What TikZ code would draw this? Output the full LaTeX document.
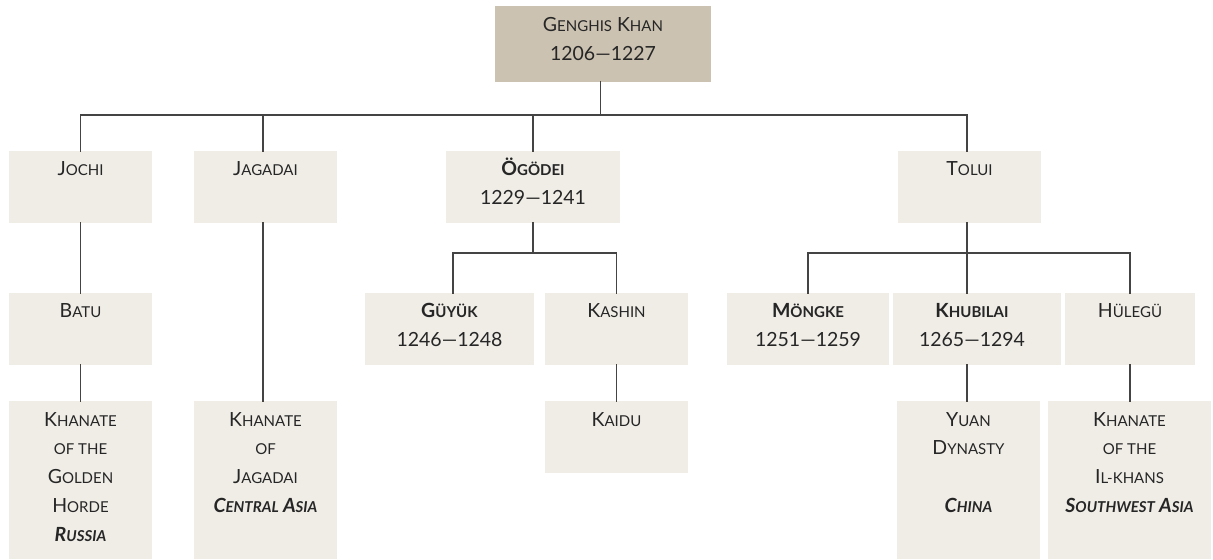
\documentclass[tikz,border=0pt]{standalone}
\usepackage{fontspec}
\setmainfont{Lato}
\usetikzlibrary{calc}
\definecolor{tanfill}{HTML}{CCC2B1}
\definecolor{pale}{HTML}{F0EDE7}
\definecolor{ink}{HTML}{262626}
\definecolor{wire}{HTML}{444444}
\newcommand\sm[1]{{\fontsize{15bp}{28.8bp}\selectfont #1}}
\newcommand\fs{\rule{0pt}{20bp}}
\begin{document}
\begin{tikzpicture}[x=1bp,y=-1bp,
  bx/.style={fill=pale, draw=none, inner sep=0pt, outer sep=0pt, anchor=north west},
  txt/.style={anchor=north, inner sep=0pt, outer sep=0pt, align=center, text=ink,
    font=\fontsize{19.5bp}{28.8bp}\selectfont},
  conn/.style={draw=wire, line width=1.4bp, line cap=rect}]
\useasboundingbox[fill=white] (0,0) rectangle (1213,560);

% boxes
\node[bx, fill=tanfill, minimum width=216bp, minimum height=76bp] (G) at (495,6) {};
\node[bx, minimum width=143bp, minimum height=72bp] (jochi) at (9,151) {};
\node[bx, minimum width=143bp, minimum height=72bp] (jagadai) at (194,151) {};
\node[bx, minimum width=174bp, minimum height=72bp] (ogodei) at (446,151) {};
\node[bx, minimum width=143bp, minimum height=72bp] (tolui) at (898,151) {};
\node[bx, minimum width=143bp, minimum height=72bp] (batu) at (9,293) {};
\node[bx, minimum width=169bp, minimum height=72bp] (guyuk) at (365,293) {};
\node[bx, minimum width=143bp, minimum height=72bp] (kashin) at (545,293) {};
\node[bx, minimum width=162bp, minimum height=72bp] (mongke) at (727,293) {};
\node[bx, minimum width=168bp, minimum height=72bp] (khubilai) at (893,293) {};
\node[bx, minimum width=130bp, minimum height=72bp] (hulegu) at (1065,293) {};
\node[bx, minimum width=143bp, minimum height=158bp] (golden) at (9,401) {};
\node[bx, minimum width=143bp, minimum height=158bp] (khjag) at (194,401) {};
\node[bx, minimum width=143bp, minimum height=72bp] (kaidu) at (545,401) {};
\node[bx, minimum width=143bp, minimum height=158bp] (yuan) at (897,401) {};
\node[bx, minimum width=163bp, minimum height=158bp] (ilkhan) at (1048,401) {};

% texts
\node[txt] (Gt) at ($(G.north)+(0,5.5)$) {\fs G\sm{ENGHIS} K\sm{HAN}\\1206—1227};
\node[txt] (jochit) at ($(jochi.north)+(0,5)$) {\fs J\sm{OCHI}};
\node[txt] (jagadait) at ($(jagadai.north)+(0,5)$) {\fs J\sm{AGADAI}};
\node[txt] (ogodeit) at ($(ogodei.north)+(0,5)$) {\fs\textbf{Ö\sm{GÖDEI}}\\1229—1241};
\node[txt] (toluit) at ($(tolui.north)+(0,5)$) {\fs T\sm{OLUI}};
\node[txt] (batut) at ($(batu.north)+(0,5)$) {\fs B\sm{ATU}};
\node[txt] (guyukt) at ($(guyuk.north)+(0,5)$) {\fs\textbf{G\sm{ÜYÜK}}\\1246—1248};
\node[txt] (kashint) at ($(kashin.north)+(0,5)$) {\fs K\sm{ASHIN}};
\node[txt] (mongket) at ($(mongke.north)+(0,5)$) {\fs\textbf{M\sm{ÖNGKE}}\\1251—1259};
\node[txt] (khubilait) at ($(khubilai.north)+(-5,5)$) {\fs\textbf{K\sm{HUBILAI}}\\1265—1294};
\node[txt] (hulegut) at ($(hulegu.north)+(0,5)$) {\fs H\sm{ÜLEGÜ}};
\node[txt] (goldent) at ($(golden.north)+(0,5)$) {\fs K\sm{HANATE}\\\sm{OF THE}\\G\sm{OLDEN}\\H\sm{ORDE}\\\textbf{\textit{R\sm{USSIA}}}};
\node[txt] (khjagt) at ($(khjag.north)+(0,5)$) {\fs K\sm{HANATE}\\\sm{OF}\\J\sm{AGADAI}\\\textbf{\textit{C\sm{ENTRAL} A\sm{SIA}}}};
\node[txt] (kaidut) at ($(kaidu.north)+(0,5)$) {\fs K\sm{AIDU}};
\node[txt] (yuant) at ($(yuan.north)+(0,5)$) {\fs Y\sm{UAN}\\D\sm{YNASTY}\\\mbox{}\\\textbf{\textit{C\sm{HINA}}}};
\node[txt] (ilkhant) at ($(ilkhan.north)+(0,5)$) {\fs K\sm{HANATE}\\\sm{OF THE}\\I\sm{L-KHANS}\\\textbf{\textit{S\sm{OUTHWEST} A\sm{SIA}}}};

% helper coordinates
\coordinate (bus) at (0,115);
\coordinate (sbus) at (0,253);
\coordinate (xTr) at (600.5,0);
\coordinate (xJa) at (263,0);
\coordinate (xTo) at (967,0);
\coordinate (xGu) at (453,0);

% connectors
\draw[conn] (G.south -| xTr) -- (xTr |- bus);
\draw[conn] (bus -| jochi.north) -- (bus -| xTo);
\draw[conn] (bus -| jochi.north) -- (jochi.north);
\draw[conn] (bus -| xJa) -- (jagadai.north -| xJa);
\draw[conn] (bus -| ogodei.north) -- (ogodei.north);
\draw[conn] (bus -| xTo) -- (tolui.north -| xTo);
\draw[conn] (jochi.south) -- (batu.north);
\draw[conn] (batu.south) -- (golden.north);
\draw[conn] (jagadai.south -| xJa) -- (khjag.north -| xJa);
\draw[conn] (ogodei.south) -- (sbus -| ogodei.south);
\draw[conn] (sbus -| xGu) -- (sbus -| kashin.north);
\draw[conn] (sbus -| xGu) -- (guyuk.north -| xGu);
\draw[conn] (sbus -| kashin.north) -- (kashin.north);
\draw[conn] (kashin.south) -- (kaidu.north);
\draw[conn] (tolui.south -| xTo) -- (khubilai.north -| xTo);
\draw[conn] (sbus -| mongke.north) -- (sbus -| hulegu.north);
\draw[conn] (sbus -| mongke.north) -- (mongke.north);
\draw[conn] (sbus -| hulegu.north) -- (hulegu.north);
\draw[conn] (khubilai.south -| xTo) -- (yuan.north -| xTo);
\draw[conn] (hulegu.south) -- (ilkhan.north -| hulegu.south);
\end{tikzpicture}
\end{document}
